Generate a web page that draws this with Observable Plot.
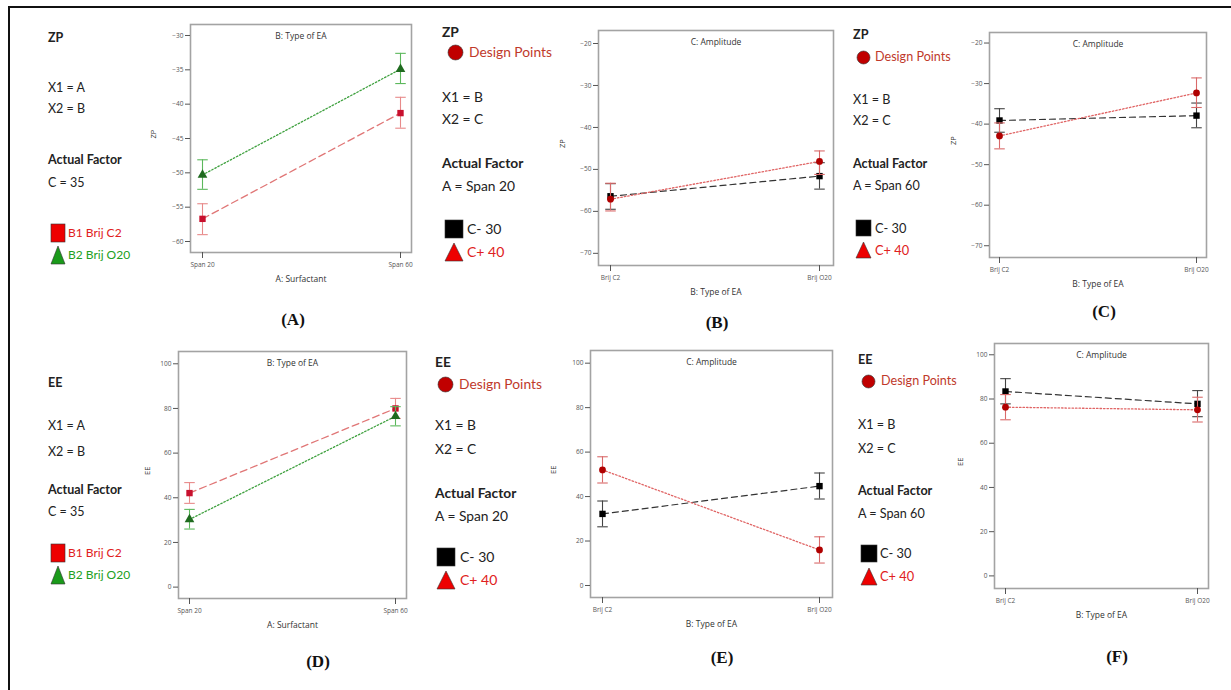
<!DOCTYPE html>
<html><head><meta charset="utf-8">
<script src="https://cdn.jsdelivr.net/npm/d3@7"></script>
<script src="https://cdn.jsdelivr.net/npm/@observablehq/plot@0.6"></script>
<style>
body{margin:0;background:#fff;}
#fig{position:relative;width:1231px;height:690px;overflow:hidden;background:#fff;font-family:"Liberation Sans Narrow","Arial Narrow",Lato,sans-serif;}
.t{position:absolute;white-space:nowrap;line-height:1;transform:translateY(-50%);color:#222;}
.lbl{position:absolute;font-family:"Liberation Serif","Times New Roman",serif;font-weight:bold;font-size:17px;transform:translate(-50%,-50%);color:#111;}
.sym{position:absolute;overflow:visible;}
</style></head><body><div id="fig"></div>
<script>
// ---------------- data ----------------
const surfactantLevels = ["Span 20", "Span 60"];
const eaTypes = ["Brij C2", "Brij O20"];

const zpTicksA = [-60, -55, -50, -45, -40, -35, -30];
const zpTicksBC = [-70, -60, -50, -40, -30, -20];
const eeTicks = [0, 20, 40, 60, 80, 100];

// (A) ZP vs A: Surfactant, by B: Type of EA (C = 35)
const zpA_B1 = [-56.7, -41.3], zpA_B1_low = [-59.0, -43.5], zpA_B1_high = [-54.5, -39.0];
const zpA_B2 = [-50.3, -34.9], zpA_B2_low = [-52.4, -37.0], zpA_B2_high = [-48.1, -32.6];
// (B) ZP vs B: Type of EA, by C: Amplitude (A = Span 20)
const zpB_Cminus = [-56.4, -51.6], zpB_Cminus_low = [-59.5, -54.7], zpB_Cminus_high = [-53.4, -48.4];
const zpB_Cplus = [-57.1, -48.1], zpB_Cplus_low = [-59.9, -51.2], zpB_Cplus_high = [-53.3, -45.6];
// (C) ZP vs B: Type of EA, by C: Amplitude (A = Span 60)
const zpC_Cminus = [-39.1, -37.9], zpC_Cminus_low = [-42.0, -40.9], zpC_Cminus_high = [-36.2, -34.8];
const zpC_Cplus = [-42.9, -32.3], zpC_Cplus_low = [-46.1, -35.9], zpC_Cplus_high = [-39.7, -28.6];
// (D) EE vs A: Surfactant
const eeD_B1 = [42.1, 80.0], eeD_B1_low = [37.5, 75.5], eeD_B1_high = [46.8, 84.5];
const eeD_B2 = [30.3, 76.5], eeD_B2_low = [26.0, 72.2], eeD_B2_high = [34.8, 80.8];
// (E) EE vs B: Type of EA (A = Span 20)
const eeE_Cminus = [32.2, 44.7], eeE_Cminus_low = [26.4, 38.9], eeE_Cminus_high = [38.0, 50.6];
const eeE_Cplus = [52.0, 16.0], eeE_Cplus_low = [46.1, 10.1], eeE_Cplus_high = [57.9, 21.9];
// (F) EE vs B: Type of EA (A = Span 60)
const eeF_Cminus = [83.4, 77.8], eeF_Cminus_low = [77.8, 72.0], eeF_Cminus_high = [89.2, 83.8];
const eeF_Cplus = [76.3, 75.1], eeF_Cplus_low = [70.6, 69.6], eeF_Cplus_high = [82.0, 80.8];

const seriesNamesAD = ["B1 Brij C2", "B2 Brij O20"];
const seriesNamesBCEF = ["C- 30", "C+ 40"];
const legendHeadings = ["ZP", "ZP", "ZP", "EE", "EE", "EE"];
const legendX1 = ["X1 = A", "X1 = B", "X1 = B", "X1 = A", "X1 = B", "X1 = B"];
const legendX2 = ["X2 = B", "X2 = C", "X2 = C", "X2 = B", "X2 = C", "X2 = C"];
const legendFactor = ["C = 35", "A = Span 20", "A = Span 60", "C = 35", "A = Span 20", "A = Span 60"];
const panelLabels = ["(A)", "(B)", "(C)", "(D)", "(E)", "(F)"];

// ---------------- styles ----------------
const ST = {
  redDash:  {line:"#e07676", dash:"7,4",   lw:1.3, sym:"square",   fill:"#c8102e", err:"#e88a8a"},
  greenDot: {line:"#3fa13f", dash:"1.5,2", lw:1.3, sym:"triangle", fill:"#1f6b1f", err:"#5cb85c"},
  blackDash:{line:"#333",    dash:"6,4",   lw:1.2, sym:"square",   fill:"#000",    err:"#444"},
  redDot:   {line:"#e06464", dash:"1.5,2", lw:1.3, sym:"circle",   fill:"#b00000", err:"#d96a6a"}
};

const panels = [
  {x:surfactantLevels, yLabel:"ZP", xLabel:"A: Surfactant", title:"B: Type of EA", ticks:zpTicksA,
   frame:{L:190,R:411,T:24,B:252}, px:[202,400], yDomain:[-61.6,-28.4], yLabDx:-37,
   series:[{name:seriesNamesAD[0], m:zpA_B1, lo:zpA_B1_low, hi:zpA_B1_high, st:"redDash"},
           {name:seriesNamesAD[1], m:zpA_B2, lo:zpA_B2_low, hi:zpA_B2_high, st:"greenDot"}]},
  {x:eaTypes, yLabel:"ZP", xLabel:"B: Type of EA", title:"C: Amplitude", ticks:zpTicksBC,
   frame:{L:598,R:833,T:30,B:265}, px:[610,819], yDomain:[-72.9,-16.9], yLabDx:-36,
   series:[{name:seriesNamesBCEF[0], m:zpB_Cminus, lo:zpB_Cminus_low, hi:zpB_Cminus_high, st:"blackDash"},
           {name:seriesNamesBCEF[1], m:zpB_Cplus, lo:zpB_Cplus_low, hi:zpB_Cplus_high, st:"redDot"}]},
  {x:eaTypes, yLabel:"ZP", xLabel:"B: Type of EA", title:"C: Amplitude", ticks:zpTicksBC,
   frame:{L:989,R:1206,T:32,B:257}, px:[999,1196], yDomain:[-72.9,-17.4], yLabDx:-36,
   series:[{name:seriesNamesBCEF[0], m:zpC_Cminus, lo:zpC_Cminus_low, hi:zpC_Cminus_high, st:"blackDash"},
           {name:seriesNamesBCEF[1], m:zpC_Cplus, lo:zpC_Cplus_low, hi:zpC_Cplus_high, st:"redDot"}]},
  {x:surfactantLevels, yLabel:"EE", xLabel:"A: Surfactant", title:"B: Type of EA", ticks:eeTicks,
   frame:{L:178,R:406,T:351,B:598}, px:[189,395], yDomain:[-5.1,105.5], yLabDx:-31,
   series:[{name:seriesNamesAD[0], m:eeD_B1, lo:eeD_B1_low, hi:eeD_B1_high, st:"redDash"},
           {name:seriesNamesAD[1], m:eeD_B2, lo:eeD_B2_low, hi:eeD_B2_high, st:"greenDot"}]},
  {x:eaTypes, yLabel:"EE", xLabel:"B: Type of EA", title:"C: Amplitude", ticks:eeTicks,
   frame:{L:590,R:832,T:350,B:597}, px:[602,819], yDomain:[-5.4,105.7], yLabDx:-37,
   series:[{name:seriesNamesBCEF[0], m:eeE_Cminus, lo:eeE_Cminus_low, hi:eeE_Cminus_high, st:"blackDash"},
           {name:seriesNamesBCEF[1], m:eeE_Cplus, lo:eeE_Cplus_low, hi:eeE_Cplus_high, st:"redDot"}]},
  {x:eaTypes, yLabel:"EE", xLabel:"B: Type of EA", title:"C: Amplitude", ticks:eeTicks,
   frame:{L:994,R:1208,T:343,B:588}, px:[1005,1197], yDomain:[-5.7,105.1], yLabDx:-34,
   series:[{name:seriesNamesBCEF[0], m:eeF_Cminus, lo:eeF_Cminus_low, hi:eeF_Cminus_high, st:"blackDash"},
           {name:seriesNamesBCEF[1], m:eeF_Cplus, lo:eeF_Cplus_low, hi:eeF_Cplus_high, st:"redDot"}]}
];

const capSymbol = {draw(ctx, size){ const w = Math.sqrt(size) * 0.9; ctx.moveTo(-w, 0); ctx.lineTo(w, 0); }};

const fig = document.getElementById("fig");

function makePlot(p){
  const mL = 50, mR = 6, mT = 2, mB = 48;
  const f = p.frame;
  const W = f.R - f.L + mL + mR, H = f.B - f.T + mT + mB;
  const marks = [];
  marks.push(Plot.frame({stroke:"#a3a3a3", strokeWidth:1.6}));
  marks.push(Plot.axisY({ticks:p.ticks, tickSize:5, tickPadding:2, label:null, fontSize:6.5, color:"#555"}));
  marks.push(Plot.axisX({tickSize:6, tickPadding:4, label:null, fontSize:6.5, color:"#555"}));
  marks.push(Plot.text([p.title], {frameAnchor:"top", dy:8, fontSize:8.5, fill:"#333"}));
  marks.push(Plot.text([p.xLabel], {frameAnchor:"bottom", dy:29, fontSize:8.5, fill:"#333"}));
  marks.push(Plot.text([p.yLabel], {frameAnchor:"left", dx:p.yLabDx, rotate:-90, fontSize:7.5, fill:"#333"}));
  p.series.forEach(s => {
    const st = ST[s.st];
    const rows = p.x.map((c, i) => ({cat:c, y:s.m[i], lo:s.lo[i], hi:s.hi[i]}));
    marks.push(Plot.ruleX(rows, {x:"cat", y1:"lo", y2:"hi", stroke:st.err, strokeWidth:1.1}));
    marks.push(Plot.dot(rows, {x:"cat", y:"lo", symbol:capSymbol, r:3.3, fill:"none", stroke:st.err, strokeWidth:1.1}));
    marks.push(Plot.dot(rows, {x:"cat", y:"hi", symbol:capSymbol, r:3.3, fill:"none", stroke:st.err, strokeWidth:1.1}));
    marks.push(Plot.line(rows, {x:"cat", y:"y", stroke:st.line, strokeWidth:st.lw, strokeDasharray:st.dash}));
    marks.push(Plot.dot(rows, {x:"cat", y:"y", symbol:st.sym, r:st.sym === "circle" ? 3.4 : 3.6, fill:st.fill, stroke:"none"}));
  });
  const svg = Plot.plot({
    width:W, height:H, marginLeft:mL, marginRight:mR, marginTop:mT, marginBottom:mB,
    x:{type:"point", domain:p.x, padding:0, insetLeft:p.px[0]-f.L, insetRight:f.R-p.px[1]},
    y:{domain:p.yDomain},
    style:{fontFamily:"'Open Sans', sans-serif", fontSize:"7px", background:"transparent", overflow:"visible"},
    marks
  });
  svg.style.position = "absolute";
  svg.style.left = (f.L - mL) + "px";
  svg.style.top = (f.T - mT) + "px";
  fig.appendChild(svg);
}
panels.forEach(makePlot);

// ---------------- border ----------------
const border = document.createElement("div");
Object.assign(border.style, {position:"absolute", left:"8px", top:"6px", width:"1300px", height:"800px",
  borderLeft:"2px solid #111", borderTop:"2px solid #111"});
fig.appendChild(border);

// ---------------- legends ----------------
function txt(x, y, s, fs, opts = {}){
  const d = document.createElement("div");
  d.className = "t"; d.textContent = s;
  d.style.left = x + "px"; d.style.top = y + "px"; d.style.fontSize = fs + "px";
  if (opts.bold) d.style.fontWeight = "bold";
  if (opts.color) d.style.color = opts.color;
  fig.appendChild(d);
}
function sym(kind, x, yc, w, h, fill){
  const ns = "http://www.w3.org/2000/svg";
  const s = document.createElementNS(ns, "svg");
  s.setAttribute("class", "sym"); s.setAttribute("width", w + 2); s.setAttribute("height", h + 2);
  s.style.left = (x - 1) + "px"; s.style.top = (yc - h / 2 - 1) + "px";
  let el;
  if (kind === "square"){ el = document.createElementNS(ns, "rect"); el.setAttribute("x", 1); el.setAttribute("y", 1); el.setAttribute("width", w); el.setAttribute("height", h); }
  else if (kind === "triangle"){ el = document.createElementNS(ns, "polygon"); el.setAttribute("points", `${1 + w / 2},1 ${1 + w},${1 + h} 1,${1 + h}`); }
  else { el = document.createElementNS(ns, "circle"); el.setAttribute("cx", 1 + w / 2); el.setAttribute("cy", 1 + h / 2); el.setAttribute("r", w / 2); }
  el.setAttribute("fill", fill); el.setAttribute("stroke", "#333"); el.setAttribute("stroke-width", 0.6);
  s.appendChild(el); fig.appendChild(s);
}

const legendLayout = [
  {x:48,  fs:12.5, head:38,  lines:[88,109,160,183],  design:null, entries:[233,255], symX:51,  symW:14, symH:18, entryX:68,  efs:12},
  {x:442, fs:13.8, head:32,  lines:[97,119,163,186],  design:{y:52, cx:448, d:15, tx:469}, entries:[229,252], symX:445, symW:18, symH:18, entryX:467, efs:14},
  {x:853, fs:12.6, head:35,  lines:[100,121,164,186], design:{y:57, cx:857, d:13, tx:875}, entries:[228,250], symX:856, symW:15, symH:16, entryX:875, efs:12.8},
  {x:48,  fs:12.5, head:383, lines:[426,452,490,512], design:null, entries:[553,575], symX:51,  symW:14, symH:18, entryX:68,  efs:12},
  {x:435, fs:13.8, head:362, lines:[425,449,493,516], design:{y:384, cx:438, d:15, tx:459}, entries:[557,580], symX:437, symW:18, symH:18, entryX:460, efs:14},
  {x:858, fs:12.6, head:360, lines:[425,449,491,514], design:{y:381, cx:862, d:13, tx:881}, entries:[553,576], symX:861, symW:16, symH:17, entryX:880, efs:12.8}
];

legendLayout.forEach((L, i) => {
  const p = panels[i];
  txt(L.x, L.head, legendHeadings[i], L.fs, {bold:true});
  if (L.design){
    sym("circle", L.design.cx, L.design.y, L.design.d, L.design.d, "#c00000");
    txt(L.design.tx, L.design.y, "Design Points", L.fs, {color:"#c0392b"});
  }
  txt(L.x, L.lines[0], legendX1[i], L.fs);
  txt(L.x, L.lines[1], legendX2[i], L.fs);
  txt(L.x, L.lines[2], "Actual Factor", L.fs, {bold:true});
  txt(L.x, L.lines[3], legendFactor[i], L.fs);
  p.series.forEach((s, j) => {
    const isAD = s.st === "redDash" || s.st === "greenDot";
    let kind, fill, color;
    if (isAD){ kind = j === 0 ? "square" : "triangle"; fill = j === 0 ? "#ee0000" : "#1a9a1a"; color = j === 0 ? "#e02020" : "#22a022"; }
    else { kind = j === 0 ? "square" : "triangle"; fill = j === 0 ? "#000" : "#ee0000"; color = j === 0 ? "#222" : "#e02020"; }
    sym(kind, L.symX, L.entries[j], L.symW, L.symH, fill);
    txt(L.entryX, L.entries[j], s.name, L.efs, {color});
  });
});

// panel labels
const labelPos = [[293,320],[717,323],[1104,312],[318,662],[722,658],[1117,657]];
panelLabels.forEach((t, i) => {
  const d = document.createElement("div");
  d.className = "lbl"; d.textContent = t;
  d.style.left = labelPos[i][0] + "px"; d.style.top = labelPos[i][1] + "px";
  fig.appendChild(d);
});
</script></body></html>
